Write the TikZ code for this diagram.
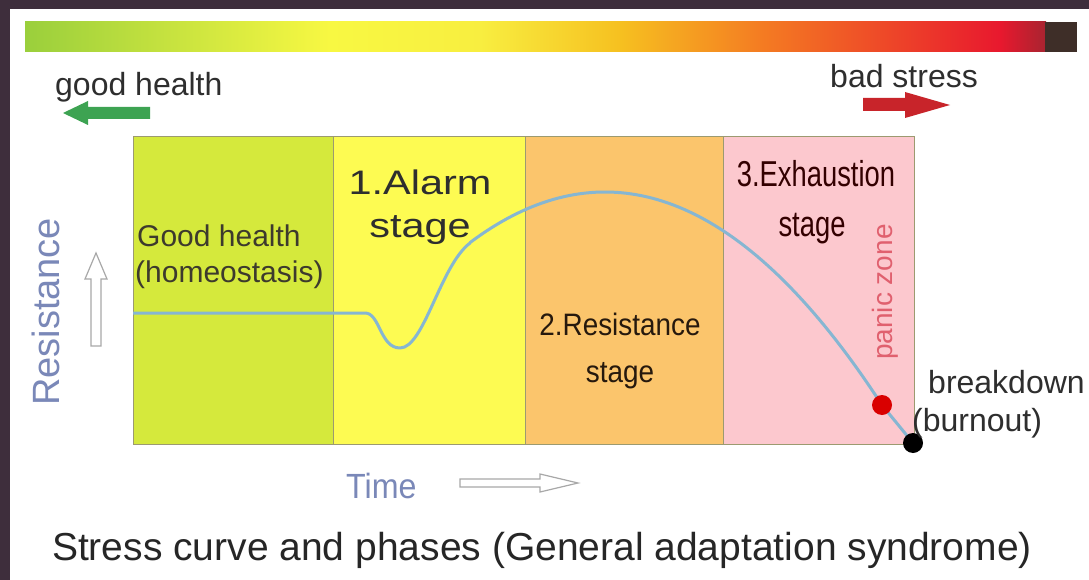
\documentclass[tikz,border=0pt]{standalone}
\usepackage{fontspec}
\setmainfont{Liberation Sans}
\usepackage{graphicx}
\definecolor{frameC}{HTML}{3E2E3C}
\definecolor{secA}{HTML}{D5E93C}
\definecolor{secB}{HTML}{FDFB52}
\definecolor{secC}{HTML}{FBC56C}
\definecolor{secD}{HTML}{FCC8CE}
\definecolor{boxC}{HTML}{9C9A70}
\definecolor{curveC}{HTML}{86B6D2}
\definecolor{axisC}{HTML}{7A88B8}
\definecolor{hollowC}{HTML}{A8A8A8}
\definecolor{greenA}{HTML}{3DA352}
\definecolor{redA}{HTML}{C8242A}
\definecolor{panicC}{HTML}{E0606E}
\definecolor{txtC}{HTML}{2E2E2E}
\definecolor{g1}{HTML}{9ACF3C}
\definecolor{g2}{HTML}{F8F842}
\definecolor{g3}{HTML}{F8EE40}
\definecolor{g4}{HTML}{F6C020}
\definecolor{g5}{HTML}{F47C22}
\definecolor{g6}{HTML}{E8182E}
\definecolor{g7}{HTML}{A82430}
\definecolor{g8}{HTML}{3E2E28}
\newcommand\fsz[1]{\fontsize{#1}{#1}\selectfont}
\tikzset{
  lbl/.style={inner sep=0pt, text=txtC},
  boxline/.style={draw=boxC, line width=1pt},
  hollow/.style={draw=hollowC, line width=1.2pt, fill=white},
  dot/.style={circle, minimum size=20pt, inner sep=0pt},
}
\begin{document}
\begin{tikzpicture}[x=1pt,y=-1pt]
\useasboundingbox (0,0) rectangle (1089,580);
\fill[white] (0,0) rectangle (1089,580);
\fill[frameC] (0,0) rectangle (1089,9);
\fill[frameC] (0,0) rectangle (10,580);
% gradient bar
\shade[left color=g1, right color=g2] (25,22) rectangle (331,52);
\shade[left color=g2, right color=g3] (330,22) rectangle (481,52);
\shade[left color=g3, right color=g4] (480,22) rectangle (621,52);
\shade[left color=g4, right color=g5] (620,22) rectangle (761,52);
\shade[left color=g5, right color=g6] (760,22) rectangle (1001,52);
\shade[left color=g6, right color=g7] (1000,22) rectangle (1046,52);
\fill[g8] (1045,22) rectangle (1077,52);
% header labels and arrows
\node[lbl, anchor=base west, font=\fsz{32}] (good) at (55,96) {good health};
\node[lbl, anchor=base west, font=\fsz{32}] (bad) at (830,88) {bad stress};
\fill[greenA] (63,113) -- (88,101) -- (88,107) -- (150,107) -- (150,119) -- (88,119) -- (88,125) -- cycle;
\fill[redA] (863,98) -- (905,98) -- (905,92) -- (950,105) -- (905,118) -- (905,111) -- (863,111) -- cycle;
% sections
\fill[secA] (133,137) rectangle (333,444);
\fill[secB] (333,137) rectangle (525,444);
\fill[secC] (525,137) rectangle (723,444);
\fill[secD] (723,137) rectangle (914,444);
\draw[boxline] (133,137) rectangle (914,444);
\draw[boxline] (333,137) -- (333,444);
\draw[boxline] (525,137) -- (525,444);
\draw[boxline] (723,137) -- (723,444);
% section texts
\node[lbl, anchor=base west, font=\fsz{30}, text=black!75!olive] (gh1) at (137,246) {Good health};
\node[lbl, anchor=base west, font=\fsz{30}, text=black!75!olive] (gh2) at (135,282) {(homeostasis)};
\node[lbl, anchor=base, font=\fsz{34}] (al1) at (420,195) {\scalebox{1.22}[1]{1.Alarm}};
\node[lbl, anchor=base, font=\fsz{34}] (al2) at (420,237) {\scalebox{1.22}[1]{stage}};
\node[lbl, anchor=base, font=\fsz{31}, text=black!80!brown] (rs1) at (620,335) {\scalebox{0.9}[1]{2.Resistance}};
\node[lbl, anchor=base, font=\fsz{31}, text=black!80!brown] (rs2) at (620,382) {\scalebox{0.9}[1]{stage}};
\node[lbl, anchor=base, font=\fsz{36}, text=black!80!red] (ex1) at (816,187) {\scalebox{0.76}[1]{3.Exhaustion}};
\node[lbl, anchor=base, font=\fsz{36}, text=black!80!red] (ex2) at (812,236) {\scalebox{0.76}[1]{stage}};
\node[lbl, font=\fsz{28}, text=panicC, rotate=90] (panic) at (885,292) {panic zone};
% curve and dots
\coordinate (rdc) at (882,405);
\coordinate (bdc) at (913,443);
\draw[curveC, line width=3pt, line join=round]
  (133,313) -- (365,313) .. controls (380,313) and (380,348) .. (400,348)
  .. controls (424,348) and (440,266) .. (470,243)
  -- plot[domain=470:882, samples=80] (\x,{192+0.002776*(\x-605)*(\x-605)})
  -- (bdc);
\node[dot, fill=red!85!black] (rd) at (rdc) {};
\node[dot, fill=black] (bd) at (bdc) {};
\node[lbl, anchor=base west, font=\fsz{32}] (brk) at (928,393) {breakdown};
\node[lbl, anchor=base west, font=\fsz{32}] (burn) at (912,431) {(burnout)};
% axes
\node[lbl, font=\fsz{38}, text=axisC, rotate=90] (res) at (46,312) {Resistance};
\draw[hollow] (96,253) -- (107,279) -- (101,279) -- (101,346) -- (91,346) -- (91,279) -- (85,279) -- cycle;
\node[lbl, anchor=base west, font=\fsz{35}, text=axisC] (time) at (346,498) {\scalebox{0.92}[1]{Time}};
\draw[hollow] (578,483) -- (540,474) -- (540,479) -- (460,479) -- (460,487) -- (540,487) -- (540,492) -- cycle;
% caption
\node[lbl, anchor=base, font=\fsz{39}, text=black!85] (cap) at (542,560) {Stress curve and phases (General adaptation syndrome)};
\end{tikzpicture}
\end{document}
